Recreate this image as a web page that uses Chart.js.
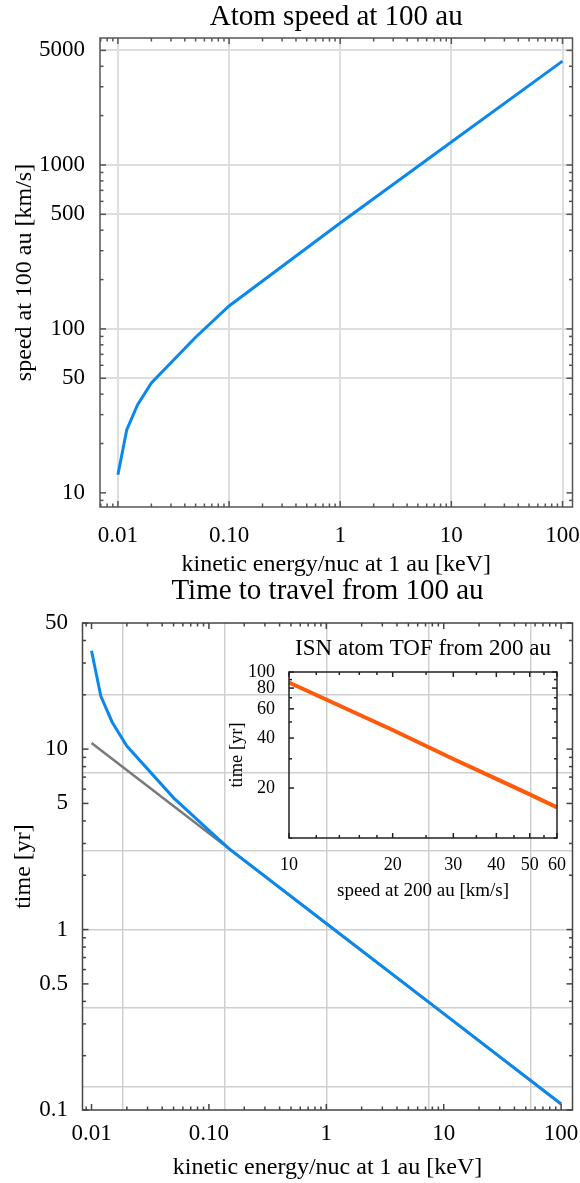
<!DOCTYPE html>
<html><head><meta charset="utf-8">
<script src="https://cdn.jsdelivr.net/npm/chart.js@4.4.1/dist/chart.umd.min.js"></script>
<style>
html,body{margin:0;padding:0;background:#fff;}
body{width:580px;height:1183px;position:relative;overflow:hidden;}
canvas{position:absolute;}
</style></head><body>
<canvas id="topChart" width="580" height="580" style="left:0;top:0;width:580px;height:580px"></canvas>
<canvas id="botChart" width="580" height="618" style="left:0;top:565px;width:580px;height:618px"></canvas>
<canvas id="insChart" width="365" height="280" style="left:215px;top:628px;width:365px;height:280px"></canvas>
<script>
// ---------- data ----------
const speedEnergy = [0.01, 0.012, 0.015, 0.02, 0.05, 0.1, 1, 10, 100];
const speedValues = [12.9, 24.2, 34.4, 46.8, 89, 138, 443, 1380, 4300];
const timeEnergy  = [0.01, 0.012, 0.015, 0.02, 0.05, 0.1, 0.15, 1, 10, 100];
const timeValues  = [35.1, 19.7, 14.1, 10.4, 5.37, 3.55, 2.79, 1.08, 0.342, 0.108];
const refEnergy   = [0.01, 100];
const refTimes    = [10.8, 0.108];
const insetSpeed  = [10, 20, 30, 40, 50, 60];
const insetTime   = [86.5, 44.7, 29.9, 22.7, 18.3, 15.3];

// ---------- ticks ----------
const energyTicks = [0.01, 0.1, 1, 10, 100];
const energyTickLabels = ['0.01', '0.10', '1', '10', '100'];
const speedTicks = [10, 50, 100, 500, 1000, 5000];
const speedTickLabels = ['10', '50', '100', '500', '1000', '5000'];
const timeTicks = [0.1, 0.5, 1, 5, 10, 50];
const timeTickLabels = ['0.1', '0.5', '1', '5', '10', '50'];
const insetXTicks = [10, 20, 30, 40, 50, 60];
const insetXTickLabels = ['10', '20', '30', '40', '50', '60'];
const insetYTicks = [20, 40, 60, 80, 100];
const insetYTickLabels = ['20', '40', '60', '80', '100'];
const insetXMinor = [12, 14, 16, 18, 25, 35, 45, 55];
const insetYMinor = [10, 30, 50, 70, 90];

// ---------- grid lines ----------
const speedGridX = [0.01, 0.1, 1, 10, 100];
const speedGridY = [50, 100, 500, 1000, 5000];
const timeGridX = [0.0183, 0.1353, 1, 7.389, 54.6];
const timeGridY = [0.1353, 0.3679, 1, 2.718, 7.389, 20.09];

const minorMult = [2, 3, 4, 5, 6, 7, 8, 9];

const FONT = "'Liberation Serif','Times New Roman',serif";
const BLUE = '#0a88ee';
const ORANGE = '#ff5a0a';
const GRAY = '#7a7a7a';

function minors(min, max, majors) {
  const out = [];
  for (let e = Math.floor(Math.log10(min)) - 1; e <= Math.ceil(Math.log10(max)); e++) {
    for (const m of [1].concat(minorMult)) {
      const v = +(m * Math.pow(10, e)).toPrecision(6);
      if (v >= min && v <= max && !majors.some(t => Math.abs(t - v) / v < 1e-6)) out.push(v);
    }
  }
  return out;
}

const framePlugin = {
  id: 'frameTicks',
  afterDatasetsDraw(chart, args, o) {
    if (!o || !o.enabled) return;
    const {ctx, chartArea: a} = chart;
    const xs = chart.scales.x, ys = chart.scales.y;
    ctx.save();
    ctx.strokeStyle = o.color; ctx.lineWidth = o.width; ctx.lineCap = 'butt';
    const seg = (x1, y1, x2, y2) => { ctx.beginPath(); ctx.moveTo(x1, y1); ctx.lineTo(x2, y2); ctx.stroke(); };
    const inX = p => p >= a.left - 0.5 && p <= a.right + 0.5;
    const inY = p => p >= a.top - 0.5 && p <= a.bottom + 0.5;
    const tx = (vals, len) => vals.forEach(v => { const p = xs.getPixelForValue(v); if (!inX(p)) return; seg(p, a.bottom, p, a.bottom - len); seg(p, a.top, p, a.top + len); });
    const ty = (vals, len) => vals.forEach(v => { const p = ys.getPixelForValue(v); if (!inY(p)) return; seg(a.left, p, a.left + len, p); seg(a.right, p, a.right - len, p); });
    tx(o.majorX, o.major); tx(o.minorX, o.minor); ty(o.majorY, o.major); ty(o.minorY, o.minor);
    ctx.strokeRect(a.left, a.top, a.right - a.left, a.bottom - a.top);
    ctx.restore();
  }
};
Chart.register(framePlugin);

function mainAxis(o) {
  return {
    type: 'logarithmic', position: o.pos, min: o.min, max: o.max,
    grid: {display: false}, border: {display: false},
    ticks: {autoSkip: false, maxRotation: 0, minRotation: 0, padding: o.pad, color: '#000',
      font: {family: FONT, size: o.size, lineHeight: 1}, callback: (v, i) => o.labels[i]},
    title: {display: true, text: o.title, color: '#000',
      font: {family: FONT, size: o.tsize, lineHeight: 1.2}, padding: o.tpad},
    afterBuildTicks: s => { s.ticks = o.ticks.map(v => ({value: v})); },
    afterFit: s => {
      if (o.pos === 'left') s.width = o.box; else s.height = o.box;
      s.paddingLeft = s.paddingRight = s.paddingTop = s.paddingBottom = 0;
    }
  };
}
function gridAxis(axis, min, max, values, color, lw) {
  return {
    type: 'logarithmic', axis: axis, position: axis === 'x' ? 'bottom' : 'left', min: min, max: max,
    ticks: {display: false}, border: {display: false},
    grid: {display: true, drawTicks: false, color: color, lineWidth: lw},
    afterBuildTicks: s => { s.ticks = values.map(v => ({value: v})); },
    afterFit: s => {
      if (axis === 'x') s.height = 0; else s.width = 0;
      s.paddingLeft = s.paddingRight = s.paddingTop = s.paddingBottom = 0;
    }
  };
}
const pts = (xs, ys) => xs.map((x, i) => ({x: x, y: ys[i]}));
function titleOpt(text, size, pt, pb) {
  return {display: true, text: text, color: '#000', fullSize: false,
    font: {family: FONT, size: size, weight: 'normal', lineHeight: 1.2}, padding: {top: pt, bottom: pb}};
}

// ---------- top chart ----------
const topX = [0.0069, 123], topY = [8.2, 5950];
new Chart(document.getElementById('topChart'), {
  type: 'scatter',
  data: {datasets: [{
    data: pts(speedEnergy, speedValues), showLine: true, borderColor: BLUE, borderWidth: 3,
    pointRadius: 0, tension: 0, xAxisID: 'x', yAxisID: 'y'
  }]},
  options: {
    responsive: false, animation: false,
    layout: {padding: {left: 0, right: 7.5, top: 0, bottom: 0}},
    scales: {
      x: mainAxis({pos: 'bottom', min: topX[0], max: topX[1], ticks: energyTicks, labels: energyTickLabels,
        pad: 9, size: 23, title: 'kinetic energy/nuc at 1 au [keV]', tsize: 24, tpad: {top: 0, bottom: 0.6}, box: 73}),
      y: mainAxis({pos: 'left', min: topY[0], max: topY[1], ticks: speedTicks, labels: speedTickLabels,
        pad: 7, size: 23, title: 'speed at 100 au [km/s]', tsize: 24, tpad: {top: 10.6, bottom: 0}, box: 100}),
      gx: gridAxis('x', topX[0], topX[1], speedGridX, '#dedede', 2),
      gy: gridAxis('y', topY[0], topY[1], speedGridY, '#dedede', 2)
    },
    plugins: {
      legend: {display: false}, tooltip: {enabled: false},
      title: titleOpt('Atom speed at 100 au', 29, 0, 3.2),
      frameTicks: {enabled: true, color: '#555', width: 1.5, major: 6, minor: 3.5,
        majorX: energyTicks, minorX: minors(topX[0], topX[1], energyTicks),
        majorY: speedTicks, minorY: minors(topY[0], topY[1], speedTicks)}
    }
  }
});

// ---------- bottom chart ----------
const botX = [0.00838, 125], botY = [0.1, 50];
new Chart(document.getElementById('botChart'), {
  type: 'scatter',
  data: {datasets: [
    {data: pts(timeEnergy, timeValues), showLine: true, borderColor: BLUE, borderWidth: 3,
      pointRadius: 0, tension: 0, xAxisID: 'x', yAxisID: 'y'},
    {data: pts(refEnergy, refTimes), showLine: true, borderColor: GRAY, borderWidth: 2.5,
      pointRadius: 0, tension: 0, xAxisID: 'x', yAxisID: 'y'}
  ]},
  options: {
    responsive: false, animation: false,
    layout: {padding: {left: 0, right: 7.5, top: 0, bottom: 0}},
    scales: {
      x: mainAxis({pos: 'bottom', min: botX[0], max: botX[1], ticks: energyTicks, labels: energyTickLabels,
        pad: 4.5, size: 23, title: 'kinetic energy/nuc at 1 au [keV]', tsize: 24, tpad: {top: 0, bottom: 0.6}, box: 73}),
      y: mainAxis({pos: 'left', min: botY[0], max: botY[1], ticks: timeTicks, labels: timeTickLabels,
        pad: 6.5, size: 23, title: 'time [yr]', tsize: 24, tpad: {top: 9.6, bottom: 0}, box: 82.5}),
      gx: gridAxis('x', botX[0], botX[1], timeGridX, '#cfcfcf', 1.5),
      gy: gridAxis('y', botY[0], botY[1], timeGridY, '#cfcfcf', 1.5)
    },
    plugins: {
      legend: {display: false}, tooltip: {enabled: false},
      title: titleOpt('Time to travel from 100 au', 29, 8.6, 14.6),
      frameTicks: {enabled: true, color: '#444', width: 1.5, major: 6, minor: 3.5,
        majorX: energyTicks, minorX: minors(botX[0], botX[1], energyTicks),
        majorY: timeTicks, minorY: minors(botY[0], botY[1], timeTicks)}
    }
  }
});

// ---------- inset chart ----------
const insX = [10, 60], insY = [10, 100];
new Chart(document.getElementById('insChart'), {
  type: 'scatter',
  data: {datasets: [{
    data: pts(insetSpeed, insetTime), showLine: true, borderColor: ORANGE, borderWidth: 4,
    pointRadius: 0, tension: 0, xAxisID: 'x', yAxisID: 'y', clip: 4
  }]},
  options: {
    responsive: false, animation: false,
    layout: {padding: {left: 0, right: 23, top: 0, bottom: 0}},
    scales: {
      x: mainAxis({pos: 'bottom', min: insX[0], max: insX[1], ticks: insetXTicks, labels: insetXTickLabels,
        pad: 10, size: 18, title: 'speed at 200 au [km/s]', tsize: 19, tpad: {top: 0, bottom: 5.6}, box: 70}),
      y: mainAxis({pos: 'left', min: insY[0], max: insY[1], ticks: insetYTicks, labels: insetYTickLabels,
        pad: 6, size: 18, title: 'time [yr]', tsize: 18.5, tpad: {top: 10.9, bottom: 0}, box: 74})
    },
    plugins: {
      legend: {display: false}, tooltip: {enabled: false},
      title: titleOpt('ISN atom TOF from 200 au', 23, 7.2, 9.2),
      frameTicks: {enabled: true, color: '#222', width: 1.5, major: 5, minor: 3,
        majorX: insetXTicks, minorX: insetXMinor, majorY: insetYTicks, minorY: insetYMinor}
    }
  }
});
</script>
</body></html>
